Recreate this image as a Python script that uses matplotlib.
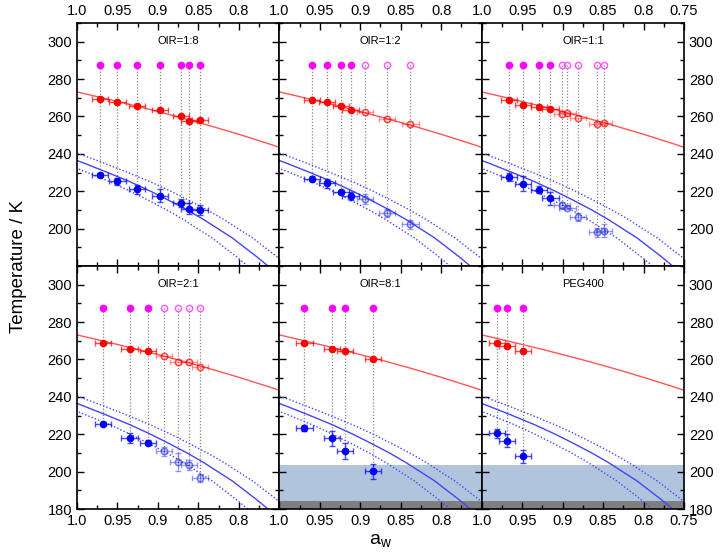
import matplotlib
matplotlib.use("Agg")
import matplotlib.pyplot as plt
from matplotlib.ticker import MultipleLocator, FixedLocator, FixedFormatter

plt.rcParams['font.family'] = ['Liberation Sans', 'DejaVu Sans']
plt.rcParams['mathtext.fontset'] = 'custom'
plt.rcParams['mathtext.rm'] = 'Liberation Sans'
plt.rcParams['mathtext.it'] = 'Liberation Sans'

# ---------------- data ----------------
panel_labels = ["OIR=1:8", "OIR=1:2", "OIR=1:1", "OIR=2:1", "OIR=8:1", "PEG400"]

aw_1_8 = [0.972, 0.950, 0.926, 0.897, 0.871, 0.862, 0.848]
Tm_1_8 = [269.5, 267.9, 265.5, 263.2, 260.5, 257.4, 258.0]
Tf_1_8 = [228.5, 225.3, 221.0, 217.6, 213.8, 210.6, 209.9]
dTf_1_8 = [1.0, 2.0, 2.5, 3.5, 2.0, 3.0, 2.5]
nfill_1_8 = 7

aw_1_2 = [0.960, 0.941, 0.924, 0.912, 0.894, 0.867, 0.838]
Tm_1_2 = [268.9, 267.7, 265.5, 263.7, 262.5, 258.5, 256.0]
Tf_1_2 = [226.8, 224.2, 219.7, 217.4, 215.8, 208.3, 202.3]
dTf_1_2 = [1.5, 2.5, 1.0, 2.0, 2.5, 2.0, 2.5]
nfill_1_2 = 4

aw_1_1 = [0.966, 0.949, 0.929, 0.915, 0.901, 0.894, 0.881, 0.858, 0.849]
Tm_1_1 = [268.9, 266.4, 265.3, 263.9, 261.2, 262.1, 259.2, 256.0, 256.6]
Tf_1_1 = [227.6, 224.1, 220.8, 216.2, 212.4, 211.3, 206.1, 198.0, 198.9]
dTf_1_1 = [2.0, 4.0, 2.0, 3.5, 2.0, 1.0, 2.0, 2.5, 3.5]
nfill_1_1 = 4

aw_2_1 = [0.968, 0.935, 0.912, 0.892, 0.875, 0.862, 0.848]
Tm_2_1 = [269.0, 265.4, 264.4, 261.8, 258.8, 258.8, 256.1]
Tf_2_1 = [225.7, 218.0, 215.5, 210.8, 205.2, 203.5, 196.7]
dTf_2_1 = [1.0, 2.5, 1.5, 2.5, 5.0, 2.5, 2.0]
nfill_2_1 = 3

aw_8_1 = [0.969, 0.935, 0.919, 0.884]
Tm_8_1 = [269.0, 265.4, 264.5, 260.2]
Tf_8_1 = [223.3, 217.8, 211.0, 200.2]
dTf_8_1 = [1.5, 4.0, 4.5, 4.0]
nfill_8_1 = 4

aw_peg = [0.981, 0.969, 0.949]
Tm_peg = [268.8, 267.0, 264.7]
Tf_peg = [220.5, 216.5, 208.3]
dTf_peg = [2.5, 3.5, 3.5]
nfill_peg = 3

aw_err = 0.01
T_marker_top = 287.5

# ice melting curve (aw, T)
aw_melt = [0.7263, 0.7602, 0.7965, 0.8353, 0.8769, 0.9213, 0.9689, 1.0]
T_melt = [240, 245, 250, 255, 260, 265, 270, 273.15]

# homogeneous freezing curve and its +/- bounds
T_hom = [180, 185, 190, 195, 200, 205, 210, 215, 220, 225, 230, 235, 240, 245]
aw_hom = [0.764, 0.778, 0.793, 0.808, 0.826, 0.844, 0.864, 0.886, 0.909, 0.934, 0.962, 0.991, 1.022, 1.056]
aw_hom_hi = [0.739, 0.753, 0.768, 0.783, 0.801, 0.819, 0.839, 0.861, 0.884, 0.909, 0.937, 0.966, 0.997, 1.031]
aw_hom_lo = [0.789, 0.803, 0.818, 0.833, 0.851, 0.869, 0.889, 0.911, 0.934, 0.959, 0.987, 1.016, 1.047, 1.081]

# instrument limits (shaded bands)
T_limit_light = 203.3
T_limit_dark = 184.1

panels = [
    (aw_1_8, Tm_1_8, Tf_1_8, dTf_1_8, nfill_1_8, False),
    (aw_1_2, Tm_1_2, Tf_1_2, dTf_1_2, nfill_1_2, False),
    (aw_1_1, Tm_1_1, Tf_1_1, dTf_1_1, nfill_1_1, False),
    (aw_2_1, Tm_2_1, Tf_2_1, dTf_2_1, nfill_2_1, False),
    (aw_8_1, Tm_8_1, Tf_8_1, dTf_8_1, nfill_8_1, True),
    (aw_peg, Tm_peg, Tf_peg, dTf_peg, nfill_peg, True),
]

# ---------------- figure ----------------
fig, axes = plt.subplots(2, 3, figsize=(7.22, 5.56), dpi=100)
fig.subplots_adjust(left=0.1066, right=0.9474, top=0.9586, bottom=0.0845,
                    wspace=0, hspace=0)

red = '#ff0000'
red_line = '#ff5555'
blue = '#0000ff'
blue_line = '#4444ff'
mag = '#ff00ff'

xt = [1.0, 0.95, 0.9, 0.85, 0.8, 0.75]
xt_lab = ["1.0", "0.95", "0.9", "0.85", "0.8", "0.75"]

for i, ax in enumerate(axes.flat):
    aw, Tm, Tf, dTf, nf, shaded = panels[i]
    row, col = divmod(i, 3)
    ax.set_xlim(1.0, 0.75)
    ax.set_ylim(180, 310)

    if shaded:
        ax.axhspan(180, T_limit_light, color='#b0c4de', zorder=0, lw=0)
        ax.axhspan(180, T_limit_dark, color='#7f7f7f', zorder=0.5, lw=0)

    ax.plot(aw_melt, T_melt, color=red_line, lw=1.0, zorder=2)
    ax.plot(aw_hom, T_hom, color=blue_line, lw=1.0, zorder=2)
    ax.plot(aw_hom_hi, T_hom, color=blue_line, lw=1.0, ls=(0, (1, 1.5)), zorder=2)
    ax.plot(aw_hom_lo, T_hom, color=blue_line, lw=1.0, ls=(0, (1, 1.5)), zorder=2)

    for j in range(len(aw)):
        filled = j < nf
        a = 1.0 if filled else 0.55
        ax.plot([aw[j], aw[j]], [T_marker_top, Tf[j]], color='#888888', lw=0.9,
                ls=(0, (1, 1.5)), zorder=1)
        # red (melting)
        ax.errorbar(aw[j], Tm[j], xerr=aw_err, fmt='none', ecolor=red, alpha=0.7 * a,
                    elinewidth=1.0, capsize=2.5, capthick=1.0, zorder=3)
        # blue (freezing)
        ax.errorbar(aw[j], Tf[j], xerr=aw_err, yerr=dTf[j], fmt='none', ecolor=blue,
                    alpha=0.7 * a, elinewidth=1.0, capsize=2.5, capthick=1.0, zorder=3)
        if filled:
            ax.plot(aw[j], Tm[j], 'o', ms=4.5, color=red, mec=red, zorder=4)
            ax.plot(aw[j], Tf[j], 'o', ms=4.5, color=blue, mec=blue, zorder=4)
            ax.plot(aw[j], T_marker_top, 'o', ms=4.5, color=mag, mec=mag, zorder=4)
        else:
            ax.plot(aw[j], Tm[j], 'o', ms=4.5, mfc='none', mec=red, mew=1.2, alpha=0.7, zorder=4)
            ax.plot(aw[j], Tf[j], 'o', ms=4.5, mfc='none', mec='#3344cc', mew=1.2, alpha=0.7, zorder=4)
            ax.plot(aw[j], T_marker_top, 'o', ms=4.5, mfc='none', mec='#ff55ff', mew=1.0, zorder=4)

    ax.text(0.5, 0.925, panel_labels[i], transform=ax.transAxes, ha='center', va='center',
            fontsize=8)

    # ticks
    ax.xaxis.set_major_locator(FixedLocator(xt))
    labs = list(xt_lab)
    if col < 2:
        labs[-1] = ""
    ax.xaxis.set_major_formatter(FixedFormatter(labs))
    ax.xaxis.set_minor_locator(MultipleLocator(0.025))
    ax.yaxis.set_major_locator(MultipleLocator(20))
    ax.yaxis.set_minor_locator(MultipleLocator(10))
    ax.tick_params(which='both', direction='in', top=True, bottom=True, left=True, right=True,
                   width=1.0)
    ax.tick_params(which='major', length=5, labelsize=10.5)
    ax.tick_params(which='minor', length=3)
    ax.tick_params(axis='x', labeltop=(row == 0), labelbottom=(row == 1))
    ax.tick_params(axis='y', labelleft=(col == 0), labelright=(col == 2))
    if row == 0:
        ax.set_yticks([200, 220, 240, 260, 280, 300])
    else:
        ax.set_yticks([180, 200, 220, 240, 260, 280, 300])
    ax.yaxis.set_minor_locator(MultipleLocator(10))
    for s in ax.spines.values():
        s.set_linewidth(1.2)

fig.text(0.025, 0.5215, 'Temperature / K', rotation=90, ha='center', va='center', fontsize=13.5)
fig.text(0.527, 0.028, r'a$_\mathrm{w}$', ha='center', va='center', fontsize=14)

fig.savefig('out.png', dpi=100)
